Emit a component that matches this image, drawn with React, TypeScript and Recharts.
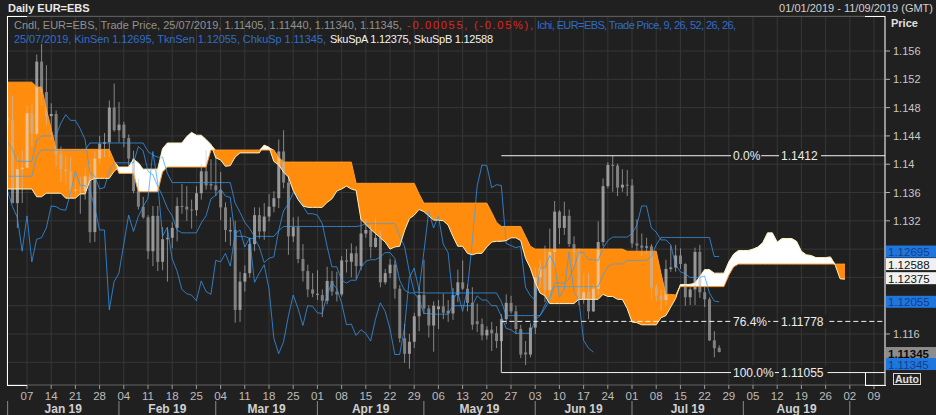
import React from "react";
import {
  ComposedChart,
  Bar,
  Line,
  Area,
  XAxis,
  YAxis,
  CartesianGrid,
  ReferenceLine,
  ReferenceDot,
} from "recharts";

// Daily EUR=EBS, index 0 = 01/01/2019 ... index 147 = 25/07/2019 (trading days)
const opens = [
  1.1466, 1.1462, 1.1345, 1.1393, 1.1395, 1.1472, 1.1443, 1.1545, 1.1502, 1.1468,
  1.1471, 1.1414, 1.1393, 1.139, 1.1364, 1.1364, 1.1362, 1.1383, 1.1304, 1.1408,
  1.1429, 1.1431, 1.148, 1.1448, 1.1456, 1.1437, 1.1408, 1.1362, 1.134, 1.1325,
  1.1277, 1.1327, 1.1262, 1.1294, 1.1296, 1.131, 1.1341, 1.134, 1.1336, 1.1335,
  1.1359, 1.139, 1.1372, 1.137, 1.1363, 1.1339, 1.1305, 1.1307, 1.1194, 1.1234,
  1.1246, 1.1287, 1.1328, 1.1305, 1.1326, 1.134, 1.1352, 1.1418, 1.1374, 1.1298,
  1.1311, 1.1266, 1.1249, 1.1223, 1.1217, 1.1215, 1.1207, 1.1235, 1.122, 1.1216,
  1.1264, 1.1262, 1.1274, 1.1256, 1.1302, 1.1307, 1.1283, 1.1296, 1.1233, 1.1246,
  1.1258, 1.1224, 1.1154, 1.1132, 1.1149, 1.1185, 1.1215, 1.1196, 1.1172, 1.1195,
  1.1199, 1.1193, 1.1189, 1.1215, 1.1233, 1.1224, 1.1204, 1.1178, 1.1174, 1.1158,
  1.1166, 1.1161, 1.115, 1.1181, 1.1204, 1.1192, 1.1167, 1.1134, 1.1131, 1.1169,
  1.124, 1.1253, 1.1222, 1.1276, 1.1333, 1.131, 1.1327, 1.1287, 1.1275, 1.1209,
  1.1219, 1.1192, 1.1224, 1.129, 1.1369, 1.1399, 1.1398, 1.1367, 1.1371, 1.137,
  1.1288, 1.1285, 1.1282, 1.1284, 1.1226, 1.1214, 1.1208, 1.1252, 1.1254, 1.1271,
  1.1259, 1.1212, 1.1223, 1.1276, 1.1219, 1.1209, 1.1151, 1.11405,
];
const highs = [
  1.1497, 1.1497, 1.141, 1.142, 1.1483, 1.1485, 1.1555, 1.157, 1.154, 1.1486,
  1.1476, 1.1425, 1.1412, 1.141, 1.1378, 1.1382, 1.1394, 1.1401, 1.1418, 1.144,
  1.1444, 1.149, 1.1514, 1.1488, 1.146, 1.1442, 1.1419, 1.138, 1.1354, 1.1328,
  1.1341, 1.1341, 1.1311, 1.131, 1.1318, 1.1353, 1.1372, 1.1369, 1.135, 1.1369,
  1.14, 1.142, 1.1407, 1.1413, 1.1389, 1.1346, 1.1325, 1.132, 1.1248, 1.1257,
  1.1296, 1.1339, 1.1339, 1.1345, 1.1358, 1.1362, 1.1435, 1.1448, 1.1384, 1.1325,
  1.1326, 1.1287, 1.1258, 1.1246, 1.125, 1.1223, 1.1255, 1.1249, 1.1248, 1.127,
  1.128, 1.1288, 1.1284, 1.1324, 1.1323, 1.1314, 1.1324, 1.1306, 1.1252, 1.1266,
  1.1264, 1.1229, 1.1174, 1.116, 1.119, 1.1224, 1.1265, 1.1201, 1.1206, 1.1208,
  1.1217, 1.1208, 1.1225, 1.1251, 1.1264, 1.123, 1.1226, 1.1203, 1.1182, 1.1171,
  1.1177, 1.1171, 1.1188, 1.1216, 1.1214, 1.12, 1.1173, 1.115, 1.1175, 1.1254,
  1.1265, 1.1285, 1.1309, 1.1348, 1.1335, 1.1347, 1.1336, 1.1298, 1.1281, 1.1246,
  1.1246, 1.123, 1.1319, 1.138, 1.1403, 1.1412, 1.1401, 1.1393, 1.1392, 1.1379,
  1.1322, 1.1302, 1.1296, 1.1287, 1.123, 1.1223, 1.1265, 1.1285, 1.1286, 1.1281,
  1.126, 1.1232, 1.1282, 1.1286, 1.1227, 1.1212, 1.1164, 1.1144,
];
const lows = [
  1.1455, 1.1345, 1.131, 1.1345, 1.1394, 1.1425, 1.144, 1.1483, 1.1456, 1.1434,
  1.1397, 1.1375, 1.137, 1.1354, 1.1355, 1.133, 1.135, 1.1289, 1.129, 1.14,
  1.141, 1.141, 1.1446, 1.1431, 1.1424, 1.1396, 1.1359, 1.1336, 1.1323, 1.1266,
  1.1256, 1.1249, 1.125, 1.1234, 1.1281, 1.1291, 1.133, 1.132, 1.1309, 1.1327,
  1.135, 1.1364, 1.1364, 1.1355, 1.1321, 1.129, 1.1285, 1.1176, 1.1177, 1.122,
  1.124, 1.1277, 1.1295, 1.1293, 1.1319, 1.1332, 1.1338, 1.1366, 1.1272, 1.129,
  1.126, 1.1234, 1.1212, 1.1212, 1.1208, 1.1184, 1.1202, 1.1214, 1.1206, 1.1213,
  1.1247, 1.124, 1.1238, 1.125, 1.1296, 1.1267, 1.1282, 1.1226, 1.123, 1.1239,
  1.121, 1.1148, 1.1119, 1.1111, 1.114, 1.1164, 1.1188, 1.1155, 1.1135, 1.1167,
  1.1181, 1.1177, 1.118, 1.1205, 1.1222, 1.1192, 1.1166, 1.1163, 1.1151, 1.1152,
  1.1136, 1.114, 1.1106, 1.1174, 1.1189, 1.116, 1.1126, 1.1116, 1.1127, 1.116,
  1.1225, 1.1205, 1.121, 1.1253, 1.1287, 1.13, 1.1283, 1.1257, 1.1201, 1.1203,
  1.1181, 1.1191, 1.1215, 1.1284, 1.1366, 1.1361, 1.1355, 1.1361, 1.1355, 1.1282,
  1.1276, 1.127, 1.1273, 1.1208, 1.1206, 1.1193, 1.12, 1.1248, 1.1248, 1.1252,
  1.12, 1.1201, 1.1201, 1.1211, 1.1198, 1.115, 1.1127, 1.1134,
];
const closes = [
  1.1462, 1.1345, 1.1393, 1.1395, 1.1472, 1.1443, 1.1545, 1.1502, 1.1468, 1.1471,
  1.1414, 1.1393, 1.139, 1.1364, 1.1364, 1.1362, 1.1383, 1.1304, 1.1408, 1.1429,
  1.1431, 1.148, 1.1448, 1.1456, 1.1437, 1.1408, 1.1362, 1.134, 1.1325, 1.1277,
  1.1327, 1.1262, 1.1294, 1.1296, 1.131, 1.1341, 1.134, 1.1336, 1.1335, 1.1359,
  1.139, 1.137, 1.137, 1.1363, 1.1339, 1.1307, 1.1307, 1.1194, 1.1234, 1.1246,
  1.1287, 1.1328, 1.1305, 1.1326, 1.134, 1.1352, 1.1418, 1.1374, 1.1298, 1.1311,
  1.1266, 1.1249, 1.1223, 1.1217, 1.1215, 1.1207, 1.1235, 1.122, 1.1216, 1.1264,
  1.1262, 1.1274, 1.1256, 1.1302, 1.1307, 1.1283, 1.1296, 1.1233, 1.1246, 1.1258,
  1.1224, 1.1154, 1.1132, 1.1149, 1.1185, 1.1215, 1.1196, 1.1172, 1.12, 1.1199,
  1.119, 1.1189, 1.1215, 1.1233, 1.1224, 1.1204, 1.1173, 1.1174, 1.1158, 1.1166,
  1.1161, 1.115, 1.1181, 1.1204, 1.1192, 1.1167, 1.1131, 1.1131, 1.1169, 1.124,
  1.1253, 1.1222, 1.1276, 1.1333, 1.131, 1.1327, 1.1287, 1.1275, 1.1209, 1.1219,
  1.1192, 1.1224, 1.129, 1.1369, 1.1399, 1.1398, 1.1367, 1.1371, 1.137, 1.1288,
  1.1285, 1.1282, 1.1284, 1.1226, 1.1214, 1.1208, 1.1252, 1.1254, 1.1271, 1.1259,
  1.1212, 1.1223, 1.1276, 1.1219, 1.1209, 1.1151, 1.114, 1.11345,
];

// Ichimoku lines (per trading day)
const tenkan = [
  1.1431, 1.1421, 1.1404, 1.1404, 1.1404, 1.1404, 1.1433, 1.144, 1.144, 1.144,
  1.144, 1.1458, 1.147, 1.1462, 1.1462, 1.145, 1.1435, 1.1388, 1.1383, 1.1365,
  1.1367, 1.139, 1.1402, 1.1402, 1.1402, 1.1402, 1.1402, 1.1425, 1.1419, 1.139,
  1.1385, 1.1369, 1.1355, 1.1338, 1.1327, 1.1307, 1.1303, 1.1303, 1.1303, 1.1303,
  1.1317, 1.1327, 1.1351, 1.1356, 1.1365, 1.1355, 1.1353, 1.1298, 1.1298, 1.1298,
  1.1295, 1.1295, 1.1283, 1.1261, 1.1267, 1.1269, 1.1306, 1.1334, 1.1344, 1.136,
  1.1354, 1.1341, 1.133, 1.133, 1.1328, 1.1316, 1.1284, 1.1255, 1.1255, 1.1236,
  1.1232, 1.1236, 1.1236, 1.1254, 1.1263, 1.1265, 1.1265, 1.1269, 1.1275, 1.1275,
  1.1267, 1.1236, 1.1222, 1.1218, 1.1218, 1.1209, 1.1189, 1.1189, 1.1188, 1.1188,
  1.1188, 1.1188, 1.12, 1.12, 1.12, 1.12, 1.12, 1.1214, 1.1208, 1.1208,
  1.12, 1.12, 1.1185, 1.1168, 1.1166, 1.1161, 1.1161, 1.1161, 1.1161, 1.118,
  1.1186, 1.1201, 1.1213, 1.1232, 1.1232, 1.1232, 1.1238, 1.1254, 1.1275, 1.1275,
  1.1265, 1.1265, 1.1264, 1.1281, 1.1292, 1.1297, 1.1297, 1.1297, 1.1297, 1.1302,
  1.1314, 1.1341, 1.1341, 1.131, 1.1304, 1.1293, 1.1293, 1.1286, 1.1258, 1.1248,
  1.1245, 1.124, 1.124, 1.124, 1.1242, 1.1218, 1.12065, 1.12055,
];
const kijun = [
  1.1383, 1.1383, 1.1383, 1.1383, 1.1383, 1.1383, 1.1412, 1.142, 1.142, 1.142,
  1.142, 1.142, 1.142, 1.142, 1.142, 1.142, 1.142, 1.143, 1.143, 1.143,
  1.143, 1.143, 1.143, 1.143, 1.143, 1.143, 1.143, 1.143, 1.143, 1.1418,
  1.1413, 1.141, 1.141, 1.1387, 1.1374, 1.1374, 1.1374, 1.1374, 1.1374, 1.1374,
  1.1374, 1.1374, 1.1374, 1.1374, 1.1374, 1.1374, 1.1374, 1.1345, 1.1332, 1.1318,
  1.1309, 1.1298, 1.1298, 1.1298, 1.1298, 1.1298, 1.1306, 1.1312, 1.1312, 1.1312,
  1.1312, 1.1312, 1.1312, 1.1312, 1.1312, 1.1312, 1.1312, 1.1312, 1.1312, 1.1312,
  1.1312, 1.1312, 1.1312, 1.1313, 1.1316, 1.1316, 1.1316, 1.1316, 1.1316, 1.1316,
  1.1316, 1.1298, 1.1284, 1.1248, 1.1219, 1.1219, 1.1218, 1.1218, 1.1218, 1.1218,
  1.1218, 1.1218, 1.1218, 1.1218, 1.1218, 1.1218, 1.1218, 1.1218, 1.1218, 1.1218,
  1.1218, 1.1218, 1.1206, 1.1186, 1.1186, 1.1186, 1.1186, 1.1186, 1.1186, 1.1186,
  1.1186, 1.1196, 1.1208, 1.1227, 1.1227, 1.1227, 1.1227, 1.1227, 1.1227, 1.1227,
  1.1227, 1.1227, 1.1227, 1.1243, 1.1255, 1.1259, 1.1259, 1.1259, 1.1264, 1.1264,
  1.1264, 1.1264, 1.1264, 1.12695, 1.1286, 1.12965, 1.12965, 1.12965, 1.12965, 1.12965,
  1.12965, 1.12965, 1.12965, 1.12965, 1.12965, 1.12965, 1.12695, 1.12695,
];
// Senkou spans (shifted 26 days forward, so they run to index 173)
const spanA = [
  1.1365, 1.1365, 1.1365, 1.1365, 1.1365, 1.1365, 1.1354, 1.1354, 1.1359, 1.1359,
  1.1359, 1.1359, 1.1352, 1.1352, 1.1352, 1.1358, 1.1358, 1.1377, 1.138, 1.138,
  1.138, 1.138, 1.139, 1.1396, 1.1396, 1.1396, 1.1407, 1.1402, 1.1393, 1.1393,
  1.1393, 1.1393, 1.1422, 1.143, 1.143, 1.143, 1.143, 1.1439, 1.1445, 1.1441,
  1.1441, 1.1435, 1.1428, 1.1409, 1.1406, 1.1397, 1.1398, 1.141, 1.1416, 1.1416,
  1.1416, 1.1416, 1.1416, 1.1427, 1.1424, 1.1404, 1.1399, 1.1389, 1.1382, 1.1363,
  1.135, 1.1341, 1.1339, 1.1339, 1.1339, 1.1339, 1.1346, 1.1351, 1.1362, 1.1365,
  1.1369, 1.1365, 1.1363, 1.1322, 1.1315, 1.1308, 1.1302, 1.1296, 1.129, 1.128,
  1.1283, 1.1284, 1.1306, 1.1323, 1.1328, 1.1336, 1.1333, 1.1327, 1.1321, 1.1321,
  1.132, 1.1314, 1.1298, 1.1284, 1.1284, 1.1274, 1.1272, 1.1274, 1.1274, 1.1283,
  1.129, 1.1291, 1.1291, 1.1292, 1.1296, 1.1296, 1.1292, 1.1267, 1.1253, 1.1233,
  1.1218, 1.1214, 1.1203, 1.1203, 1.1203, 1.1203, 1.1203, 1.1203, 1.1209, 1.1209,
  1.1209, 1.1209, 1.1209, 1.1216, 1.1213, 1.1213, 1.1209, 1.1209, 1.1196, 1.1177,
  1.1176, 1.1173, 1.1173, 1.1173, 1.1173, 1.1183, 1.1186, 1.1198, 1.121, 1.123,
  1.123, 1.123, 1.1232, 1.1241, 1.1251, 1.1251, 1.1246, 1.1246, 1.1246, 1.1262,
  1.1273, 1.1278, 1.1278, 1.1278, 1.128, 1.1283, 1.1289, 1.1303, 1.1303, 1.129,
  1.1295, 1.1295, 1.1295, 1.1291, 1.1277, 1.1272, 1.1271, 1.1268, 1.1268, 1.1268,
  1.1269, 1.1257, 1.1238, 1.12375,
];
const spanB = [
  1.1516, 1.1516, 1.1516, 1.1516, 1.1516, 1.1516, 1.1509, 1.1509, 1.1478, 1.145,
  1.1421, 1.1421, 1.1421, 1.1421, 1.1421, 1.1421, 1.1421, 1.1421, 1.1421, 1.1421,
  1.1421, 1.1421, 1.1405, 1.1387, 1.1387, 1.1387, 1.1387, 1.1361, 1.1361, 1.1361,
  1.1361, 1.1361, 1.1389, 1.1396, 1.1396, 1.1396, 1.1396, 1.1396, 1.1396, 1.1396,
  1.1396, 1.1396, 1.142, 1.142, 1.142, 1.142, 1.142, 1.142, 1.142, 1.142,
  1.142, 1.142, 1.142, 1.142, 1.142, 1.142, 1.141, 1.1403, 1.1403, 1.1403,
  1.1403, 1.1403, 1.1403, 1.1403, 1.1403, 1.1403, 1.1403, 1.1403, 1.1403, 1.1403,
  1.1403, 1.1403, 1.1373, 1.1373, 1.1373, 1.1373, 1.1373, 1.1373, 1.1373, 1.1373,
  1.1373, 1.1373, 1.1373, 1.1373, 1.1373, 1.1358, 1.1345, 1.1345, 1.1345, 1.1345,
  1.1345, 1.1345, 1.1345, 1.1345, 1.1345, 1.1345, 1.1345, 1.1345, 1.1345, 1.1345,
  1.1332, 1.1318, 1.1312, 1.1312, 1.1312, 1.1312, 1.1312, 1.1298, 1.1284, 1.128,
  1.128, 1.128, 1.128, 1.128, 1.128, 1.128, 1.128, 1.128, 1.128, 1.128,
  1.128, 1.128, 1.128, 1.128, 1.128, 1.128, 1.128, 1.128, 1.1277, 1.1277,
  1.1277, 1.1277, 1.1277, 1.1277, 1.1277, 1.1245, 1.1216, 1.1216, 1.1215, 1.1227,
  1.1227, 1.1227, 1.1227, 1.1227, 1.1227, 1.1227, 1.1227, 1.1227, 1.1227, 1.1243,
  1.1255, 1.12588, 1.12588, 1.12588, 1.12588, 1.12588, 1.12588, 1.12588, 1.12588, 1.12588,
  1.12588, 1.12588, 1.12588, 1.12588, 1.12588, 1.12588, 1.12588, 1.12588, 1.12588, 1.12588,
  1.12588, 1.12588, 1.12588, 1.12588,
];
const CHIKOU_SHIFT = 26;

// axes
const X_MIN = -0.13;
const X_MAX = 181.27;
const Y_MIN = 1.10879;
const Y_MAX = 1.16095;
const priceTicks = [1.112, 1.116, 1.12, 1.124, 1.128, 1.132, 1.136, 1.14, 1.144, 1.148, 1.152, 1.156];
const hiddenPriceTicks = [1.112, 1.12, 1.124, 1.128];
const mondayIdx = [4, 9, 14, 19, 24, 29, 34, 39, 44, 49, 54, 59, 64, 69, 74, 79, 84, 89, 94, 99, 104, 109, 114, 119, 124, 129, 134, 139, 144, 149, 154, 159, 164, 169, 174, 179];
const mondayLabels = ["07", "14", "21", "28", "04", "11", "18", "25", "04", "11", "18", "25", "01", "08", "15", "22", "29", "06", "13", "20", "27", "03", "10", "17", "24", "01", "08", "15", "22", "29", "05", "12", "19", "26", "02", "09"];
const monthStartIdx = [0, 23, 43, 64, 86, 109, 129, 152, 174];
const monthMidIdx = [11.5, 33, 53.5, 75, 97.5, 119, 140.5, 163];
const monthLabels = ["Jan 19", "Feb 19", "Mar 19", "Apr 19", "May 19", "Jun 19", "Jul 19", "Aug 19"];

// Fibonacci retracement (anchor 23/05/2019 low -> 25/06/2019 high)
const FIB_START = 102;
const FIB_LABEL_IDX = 149.87;
const fibLevels = [
  { pct: "0.0%", value: 1.1412, text: "1.1412", dashed: false },
  { pct: "76.4%", value: 1.11778, text: "1.11778", dashed: true },
  { pct: "100.0%", value: 1.11055, text: "1.11055", dashed: false },
];

const FONT = "'Liberation Sans', Arial, sans-serif";
const BG = "#202020";
const BLUE = "#33a0ff";

const last = closes.length - 1;
const lastA = spanA.length - 1;
const chikouLast = closes[last];
const rightLabels = [
  { value: kijun[last], kind: "blue", dy: -5 },
  { value: spanB[lastA], kind: "white", dy: 0 },
  { value: spanA[lastA], kind: "white", dy: -1 },
  { value: tenkan[last], kind: "blue", dy: 0 },
  { value: closes[last], kind: "grey", dy: 1 },
  { value: chikouLast, kind: "blue", dy: 12 },
];

const data: any[] = [];
for (let i = 0; i < spanA.length; i++) {
  const row: any = { i };
  if (i < closes.length) {
    row.o = opens[i];
    row.h = highs[i];
    row.l = lows[i];
    row.c = closes[i];
    row.range = [lows[i], highs[i]];
    row.tenkan = tenkan[i];
    row.kijun = kijun[i];
  }
  if (i + CHIKOU_SHIFT < closes.length) row.chikou = closes[i + CHIKOU_SHIFT];
  const a = spanA[i];
  const b = spanB[i];
  row.spanA = a;
  row.spanB = b;
  row.orange = [a, Math.max(a, b)];
  row.white = [b, Math.max(a, b)];
  data.push(row);
}

const Candle = (props: any) => {
  const { x, y, width, height, payload } = props;
  if (!payload || payload.o == null || height == null) return null;
  const { o, h, l, c } = payload;
  const top = height < 0 ? y + height : y;
  const hh = Math.abs(height);
  const k = h - l > 0 ? hh / (h - l) : 0;
  const cx = x + width / 2;
  const yO = top + (h - o) * k;
  const yC = top + (h - c) * k;
  const bTop = Math.min(yO, yC);
  const bH = Math.max(Math.abs(yO - yC), 1);
  const up = c >= o;
  return (
    <g opacity={0.62}>
      <line x1={cx} x2={cx} y1={top} y2={top + hh} stroke="#c4c4c4" strokeWidth={1} />
      <rect x={cx - 1.5} y={bTop} width={3} height={bH} fill={up ? "#e2e2e2" : "#bcbcbc"} />
    </g>
  );
};

const PriceTick = (props: any) => {
  const { x, y, payload } = props;
  const v = payload.value;
  if (hiddenPriceTicks.some((t) => Math.abs(t - v) < 1e-9)) return null;
  return (
    <g>
      <line x1={x - 7} x2={x - 2} y1={y} y2={y} stroke="#b0b0b0" />
      <text x={x + 1} y={y + 4} fill="#c8c8c8" fontSize={11} fontFamily={FONT}>
        {String(+v.toFixed(3))}
      </text>
    </g>
  );
};

const DayTick = (props: any) => {
  const { x, y, payload } = props;
  const k = mondayIdx.indexOf(payload.value);
  return (
    <g>
      <line x1={x} x2={x} y1={y - 4} y2={y} stroke="#9a9a9a" />
      <text x={x} y={y + 11} textAnchor="middle" fill="#bdbdbd" fontSize={11.5} fontFamily={FONT}>
        {mondayLabels[k]}
      </text>
    </g>
  );
};

const MonthTick = (props: any) => {
  const { x, y, payload } = props;
  const v = payload.value;
  if (monthStartIdx.indexOf(v) >= 0) {
    return <line x1={x} x2={x} y1={y} y2={y + 14} stroke="#8a8a8a" />;
  }
  const m = monthMidIdx.indexOf(v);
  return (
    <text x={x} y={y + 12} textAnchor="middle" fill="#d0d0d0" fontSize={12} fontWeight="bold" fontFamily={FONT}>
      {monthLabels[m]}
    </text>
  );
};

const boxStyles: any = {
  blue: { bg: "#1f76dc", fg: "#123f8c", weight: "normal" },
  white: { bg: "#f0f0f0", fg: "#111111", weight: "normal" },
  grey: { bg: "#8c8c8c", fg: "#0a0a0a", weight: "bold" },
};

const makeBox = (value: number, kind: string, dy: number) => (p: any) => {
  const s = boxStyles[kind];
  const cy = p.cy + dy;
  return (
    <g>
      <rect x={p.cx + 1} y={cy - 6} width={50} height={12} fill={s.bg} />
      <text x={p.cx + 3} y={cy + 4.5} fill={s.fg} fontSize={11.5} fontWeight={s.weight} fontFamily={FONT}>
        {value.toFixed(5)}
      </text>
    </g>
  );
};

const makeFibLabel = (pct: string, text: string) => (p: any) => {
  const wp = pct.length * 6.8;
  const wv = text.length * 6.5;
  return (
    <g>
      <rect x={p.cx - 2} y={p.cy - 7} width={wp + 3} height={14} fill={BG} />
      <text x={p.cx} y={p.cy + 4.5} fill="#ececec" fontSize={12} fontFamily={FONT}>
        {pct}
      </text>
      <rect x={p.cx + 46} y={p.cy - 7} width={wv + 3} height={14} fill={BG} />
      <text x={p.cx + 48} y={p.cy + 4.5} fill="#ececec" fontSize={12} fontFamily={FONT}>
        {text}
      </text>
    </g>
  );
};

const chg = closes[last] - closes[last - 1];
const chgPct = (chg / closes[last - 1]) * 100;
const row1Grey = `Cndl, EUR=EBS, Trade Price, 25/07/2019, ${opens[last].toFixed(5)}, ${highs[last].toFixed(5)}, ${lows[last].toFixed(5)}, ${closes[last].toFixed(5)},`;
const row1Red = `${chg.toFixed(5)}, (${chgPct.toFixed(2)}%),`;
const row1Blue = "Ichi, EUR=EBS, Trade Price,  9, 26, 52, 26, 26,";
const row2Blue = `25/07/2019, KinSen ${kijun[last].toFixed(5)}, TknSen ${tenkan[last].toFixed(5)}, ChkuSp ${closes[last].toFixed(5)},`;
const row2White = `SkuSpA ${spanA[lastA].toFixed(5)}, SkuSpB ${spanB[lastA].toFixed(5)}`;

export default function App() {
  return (
    <div style={{ position: "absolute", left: 0, top: 0, width: 936, height: 415, background: BG, fontFamily: FONT }}>
      <ComposedChart width={936} height={415} data={data} margin={{ top: 16, right: 0, bottom: 0, left: 7 }}>
        <CartesianGrid stroke="#363636" strokeWidth={1} />
        <XAxis
          dataKey="i"
          type="number"
          domain={[X_MIN, X_MAX]}
          allowDataOverflow
          ticks={mondayIdx}
          interval={0}
          tick={<DayTick />}
          tickLine={false}
          tickSize={4}
          tickMargin={0}
          axisLine={{ stroke: "#5a5a5a" }}
          height={16}
        />
        <XAxis
          xAxisId="m"
          dataKey="i"
          type="number"
          domain={[X_MIN, X_MAX]}
          allowDataOverflow
          ticks={[...monthStartIdx, ...monthMidIdx].sort((a, b) => a - b)}
          interval={0}
          tick={<MonthTick />}
          tickLine={false}
          tickSize={0}
          tickMargin={0}
          axisLine={false}
          height={14}
        />
        <YAxis
          orientation="right"
          type="number"
          domain={[Y_MIN, Y_MAX]}
          allowDataOverflow
          ticks={priceTicks}
          interval={0}
          tick={<PriceTick />}
          tickLine={false}
          tickSize={5}
          tickMargin={2}
          axisLine={{ stroke: "#ffffff" }}
          width={51}
        />
        <Area dataKey="orange" stroke="none" fill="#ff8c0c" fillOpacity={1} dot={false} activeDot={false} isAnimationActive={false} zIndex={100} />
        <Area dataKey="white" stroke="none" fill="#ffffff" fillOpacity={1} dot={false} activeDot={false} isAnimationActive={false} zIndex={100} />
        <Bar dataKey="range" barSize={3} shape={<Candle />} isAnimationActive={false} zIndex={300} />
        <Line dataKey="chikou" stroke={BLUE} strokeOpacity={0.72} strokeWidth={1} dot={false} activeDot={false} isAnimationActive={false} zIndex={400} />
        <Line dataKey="kijun" stroke={BLUE} strokeOpacity={0.72} strokeWidth={1} dot={false} activeDot={false} isAnimationActive={false} zIndex={400} />
        <Line dataKey="tenkan" stroke={BLUE} strokeOpacity={0.72} strokeWidth={1} dot={false} activeDot={false} isAnimationActive={false} zIndex={400} />
        <Line dataKey="spanB" stroke="#ff9a2a" strokeWidth={1} dot={false} activeDot={false} isAnimationActive={false} zIndex={460} />
        <Line dataKey="spanA" stroke="#fff2c0" strokeWidth={1} dot={false} activeDot={false} isAnimationActive={false} zIndex={460} />
        {fibLevels.map((f) => (
          <ReferenceLine
            key={f.pct}
            segment={[{ x: FIB_START, y: f.value }, { x: X_MAX, y: f.value }]}
            stroke="#f2f2f2"
            strokeWidth={1}
            strokeDasharray={f.dashed ? "5 3" : undefined}
            ifOverflow="visible"
            zIndex={700}
          />
        ))}
        <ReferenceLine
          segment={[{ x: FIB_START, y: fibLevels[1].value }, { x: FIB_START, y: fibLevels[2].value }]}
          stroke="#bdbdbd"
          strokeWidth={1}
          ifOverflow="visible"
          zIndex={700}
        />
        {fibLevels.map((f) => (
          <ReferenceDot
            key={"l" + f.pct}
            x={FIB_LABEL_IDX}
            y={f.value}
            r={1}
            ifOverflow="visible"
            shape={makeFibLabel(f.pct, f.text)}
            zIndex={710}
          />
        ))}
        {rightLabels.map((r, k) => (
          <ReferenceDot
            key={"r" + k}
            x={X_MAX}
            y={r.value}
            r={1}
            ifOverflow="visible"
            shape={makeBox(r.value, r.kind, r.dy)}
            zIndex={720}
          />
        ))}
      </ComposedChart>
      <svg width={936} height={415} style={{ position: "absolute", left: 0, top: 0, pointerEvents: "none" }}>
        <text x={8} y={12} fill="#e8e8e8" fontSize={11} fontWeight="bold" fontFamily={FONT}>
          Daily EUR=EBS
        </text>
        <text x={933} y={12} textAnchor="end" fill="#d0d0d0" fontSize={11} fontFamily={FONT}>
          01/01/2019 - 11/09/2019 (GMT)
        </text>
        <text x={891} y={27} fill="#e0e0e0" fontSize={11} fontWeight="bold" fontFamily={FONT}>
          Price
        </text>
        <text x={14} y={29} fill="#929292" fontSize={11} fontFamily={FONT} textLength={388}>
          {row1Grey}
        </text>
        <text x={407} y={29} fill="#e0241c" fontSize={11} fontFamily={FONT} textLength={126}>
          {row1Red}
        </text>
        <text x={537} y={29} fill="#2f6dca" fontSize={11} fontFamily={FONT} textLength={199}>
          {row1Blue}
        </text>
        <text x={14} y={43} fill="#2f6dca" fontSize={11} fontFamily={FONT} textLength={312}>
          {row2Blue}
        </text>
        <text x={330} y={43} fill="#f2f2f2" fontSize={11} fontFamily={FONT} textLength={163}>
          {row2White}
        </text>
        <line x1={7} x2={885} y1={16.5} y2={16.5} stroke="#5a5a5a" />
        <line x1={7.5} x2={7.5} y1={16} y2={386} stroke="#ffffff" />
        <line x1={7} x2={27} y1={16.5} y2={16.5} stroke="#ffffff" />
        <line x1={865} x2={885} y1={16.5} y2={16.5} stroke="#ffffff" />
        <line x1={7} x2={27} y1={385.5} y2={385.5} stroke="#ffffff" />
        <line x1={865} x2={886} y1={385.5} y2={385.5} stroke="#ffffff" />
        <line x1={865.5} x2={865.5} y1={372} y2={386} stroke="#ffffff" />
        <rect x={893.5} y={373.5} width={27} height={11} fill="none" stroke="#d8d8d8" />
        <text x={907} y={383} textAnchor="middle" fill="#e0e0e0" fontSize={10.5} fontWeight="bold" fontFamily={FONT}>
          Auto
        </text>
      </svg>
    </div>
  );
}
